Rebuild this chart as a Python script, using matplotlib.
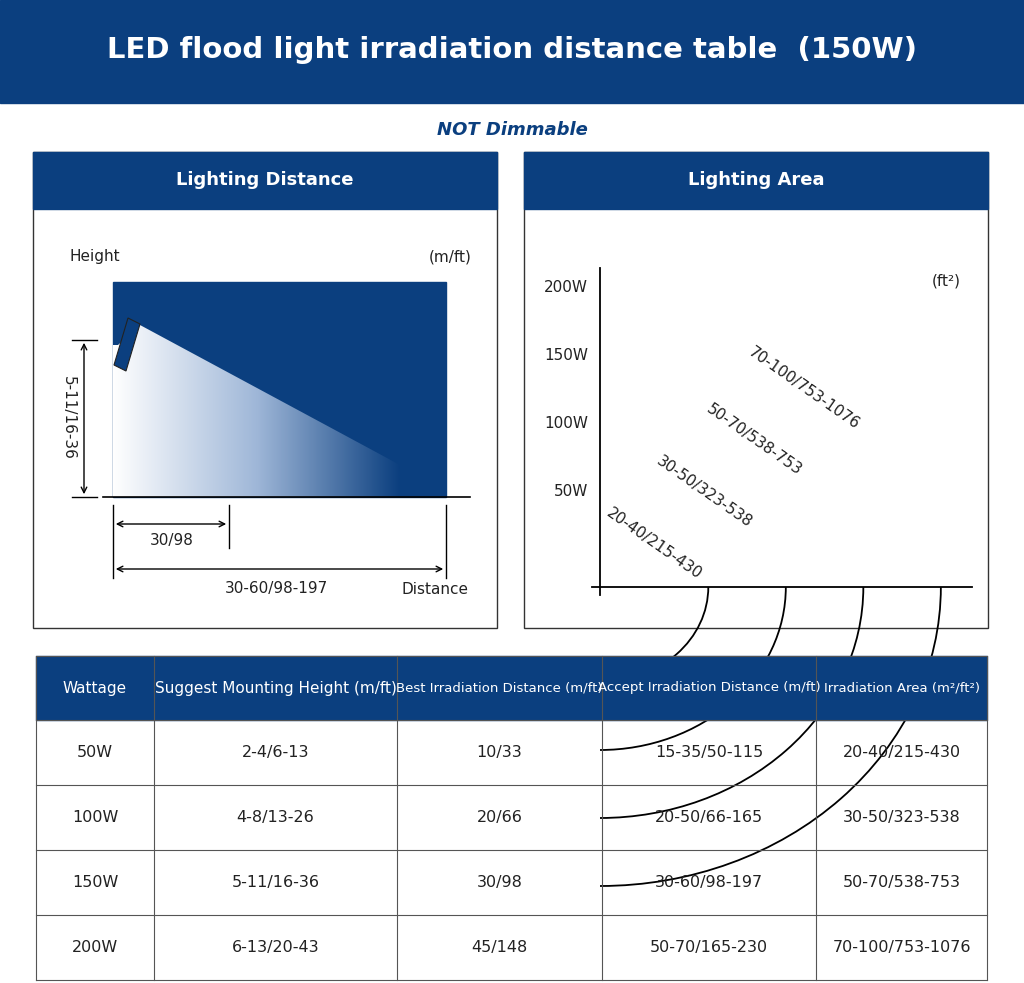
import matplotlib
matplotlib.use("Agg")
import matplotlib.pyplot as plt
import numpy as np
from matplotlib.patches import Rectangle, Polygon, Arc

title = "LED flood light irradiation distance table  (150W)"
subtitle = "NOT Dimmable"
headers = ["Wattage", "Suggest Mounting Height (m/ft)", "Best Irradiation Distance (m/ft)",
           "Accept Irradiation Distance (m/ft)", "Irradiation Area (m²/ft²)"]
wattage = ["50W", "100W", "150W", "200W"]
watts = [50, 100, 150, 200]
mount_height = ["2-4/6-13", "4-8/13-26", "5-11/16-36", "6-13/20-43"]
best_dist = ["10/33", "20/66", "30/98", "45/148"]
accept_dist = ["15-35/50-115", "20-50/66-165", "30-60/98-197", "50-70/165-230"]
area = ["20-40/215-430", "30-50/323-538", "50-70/538-753", "70-100/753-1076"]

BLUE = "#0b3f7f"
fig = plt.figure(figsize=(10.24, 9.83), dpi=100)
ax = fig.add_axes([0, 0, 1, 1])
ax.set_xlim(0, 1024); ax.set_ylim(983, 0); ax.axis("off")
F = "DejaVu Sans"

ax.add_patch(Rectangle((0, 0), 1024, 103, color=BLUE))
ax.text(512, 50, title, color="white", fontsize=21, fontweight="bold", ha="center", va="center")
ax.text(512, 130, subtitle, color=BLUE, fontsize=13, fontweight="bold", style="italic", ha="center", va="center")

for x0, lab in [(33, "Lighting Distance"), (524, "Lighting Area")]:
    ax.add_patch(Rectangle((x0, 152), 464, 476, fill=False, ec="#333", lw=1))
    ax.add_patch(Rectangle((x0, 152), 464, 57, color=BLUE))
    ax.text(x0 + 232, 180, lab, color="white", fontsize=13, fontweight="bold", ha="center", va="center")

# left diagram
ax.add_patch(Rectangle((113, 282), 333, 215, color=BLUE, zorder=1))
grad = np.linspace(1, 0, 256)[None, :]
from matplotlib.colors import LinearSegmentedColormap
cm = LinearSegmentedColormap.from_list("g", [BLUE, "#9fb7d8", "white"])
im = ax.imshow(grad, extent=(113, 400, 497, 325), cmap=cm, aspect="auto", zorder=2)
beam = Polygon([(118, 345), (140, 325), (400, 465), (400, 497), (113, 497), (113, 345)], closed=True,
               transform=ax.transData, fc="none", ec="none")
ax.add_patch(beam); im.set_clip_path(beam)
ax.add_patch(Polygon([(114, 365), (126, 371), (140, 324), (128, 318)], fc=BLUE, ec="#222", lw=0.8, zorder=3))
ax.plot([103, 470], [497, 497], color="black", lw=1.2)
ax.text(95, 257, "Height", fontsize=11, ha="center", va="center", color="#222")
ax.text(450, 257, "(m/ft)", fontsize=11, ha="center", va="center", color="#222")
ax.plot([72, 97], [340, 340], color="black", lw=1); ax.plot([72, 97], [497, 497], color="black", lw=1)
ax.annotate("", xy=(84, 340), xytext=(84, 497), arrowprops=dict(arrowstyle="<->", lw=1))
ax.text(68, 418, "5-11/16-36", rotation=-90, fontsize=11, ha="center", va="center", color="#222")
ax.plot([113, 113], [505, 578], color="black", lw=1)
ax.plot([229, 229], [505, 548], color="black", lw=1)
ax.plot([446, 446], [505, 578], color="black", lw=1)
ax.annotate("", xy=(113, 524), xytext=(229, 524), arrowprops=dict(arrowstyle="<->", lw=1))
ax.annotate("", xy=(113, 569), xytext=(446, 569), arrowprops=dict(arrowstyle="<->", lw=1))
ax.text(172, 541, "30/98", fontsize=11, ha="center", va="center", color="#222")
ax.text(276, 589, "30-60/98-197", fontsize=11, ha="center", va="center", color="#222")
ax.text(435, 590, "Distance", fontsize=11, ha="center", va="center", color="#222")

# right diagram
ox, oy = 600, 587
ax.plot([ox, ox], [268, 595], color="black", lw=1.3)
ax.plot([592, 972], [oy, oy], color="black", lw=1.3)
ax.text(946, 281, "(ft²)", fontsize=11, ha="center", va="center", color="#222")
for w, lab, a in zip(watts, wattage, area):
    rv = 27 + 68 * w / 50
    rh = rv * 1.14
    ax.add_patch(Arc((ox, oy), 2 * rh, 2 * rv, theta1=0, theta2=90, color="black", lw=1.3))
    ax.text(588, oy - rv, lab, fontsize=11, ha="right", va="center", color="#222")
    t = np.radians(50)
    r2 = rv - 26
    ax.text(ox + r2 * 1.14 * np.cos(t) + 4, oy - r2 * np.sin(t) + 10, a, fontsize=11,
            rotation=-35, ha="center", va="center", color="#222")

# table
cols = [36, 154, 397, 602, 816, 987]
rows = [656, 720, 785, 850, 915, 980]
ax.add_patch(Rectangle((36, 656), 951, 64, color=BLUE))
for i, h in enumerate(headers):
    ax.text((cols[i] + cols[i + 1]) / 2, 688, h, color="white", fontsize=11 if i < 2 else 9.5,
            ha="center", va="center")
for x in cols:
    ax.plot([x, x], [656, 980], color="#555", lw=0.8)
for y in rows:
    ax.plot([36, 987], [y, y], color="#555", lw=0.8)
for r in range(4):
    vals = [wattage[r], mount_height[r], best_dist[r], accept_dist[r], area[r]]
    yc = (rows[r + 1] + rows[r + 2]) / 2
    for i, v in enumerate(vals):
        ax.text((cols[i] + cols[i + 1]) / 2, yc, v, fontsize=11.5, ha="center", va="center", color="#222")

fig.savefig("out.png", dpi=100, facecolor="white")
